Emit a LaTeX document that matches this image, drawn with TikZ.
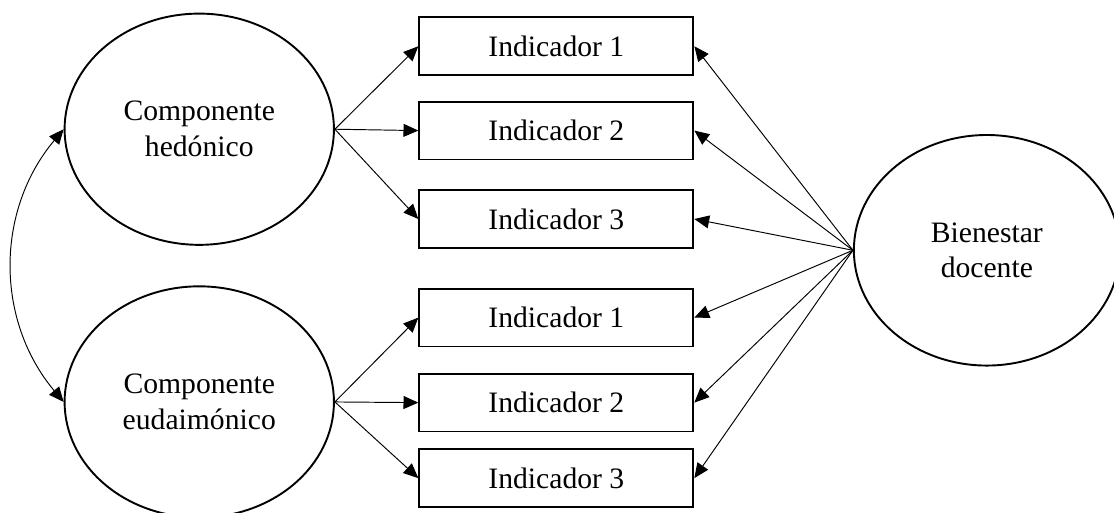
\documentclass[tikz,border=0pt]{standalone}
\usepackage{fontspec}
\setmainfont{Liberation Serif}
\usepackage{tikz}
\usetikzlibrary{arrows.meta,shapes.geometric}

\begin{document}
\begin{tikzpicture}[>={Triangle[length=6.2pt,width=5.4pt]}, font=\fontsize{12.4pt}{15pt}\selectfont,
		latente/.style={draw, ellipse, thick, minimum width=3.96cm, minimum height=3.4cm, inner sep=0pt, align=center},
		indicador/.style={draw, rectangle, thick, minimum width=4.03cm, minimum height=0.85cm, inner sep=0pt}]
				\useasboundingbox (0,0) rectangle (16.38,-7.53);
				% variables latentes
				\node [latente] (hed) at (2.93,-1.90){Componente\\hedónico};
				\node [latente] (eud) at (2.93,-5.91){Componente\\eudaimónico};
				\node [latente, minimum width=3.91cm, minimum height=3.39cm] (bien) at (14.51,-3.68){Bienestar\\docente};
				% indicadores
				\node [indicador] (h1) at (8.18,-0.68){Indicador 1};
				\node [indicador] (h2) at (8.18,-1.92){Indicador 2};
				\node [indicador] (h3) at (8.18,-3.22){Indicador 3};
				\node [indicador] (e1) at (8.18,-4.67){Indicador 1};
				\node [indicador] (e2) at (8.18,-5.92){Indicador 2};
				\node [indicador] (e3) at (8.18,-7.03){Indicador 3};
				% cargas
				\draw [->] (hed.east) -- (h1.west);
				\draw [->] (hed.east) -- (h2.west);
				\draw [->] (hed.east) -- (h3.west);
				\draw [->] (eud.east) -- (e1.west);
				\draw [->] (eud.east) -- (e2.west);
				\draw [->] (eud.east) -- (e3.west);
				\draw [->] (bien.west) -- (h1.east);
				\draw [->] (bien.west) -- (h2.east);
				\draw [->] (bien.west) -- (h3.east);
				\draw [->] (bien.west) -- (e1.east);
				\draw [->] (bien.west) -- (e2.east);
				\draw [->] (bien.west) -- (e3.east);
				% covarianza
				\draw [<->] (hed.west) to [bend right = 40] (eud.west);
		\end{tikzpicture}
\end{document}
